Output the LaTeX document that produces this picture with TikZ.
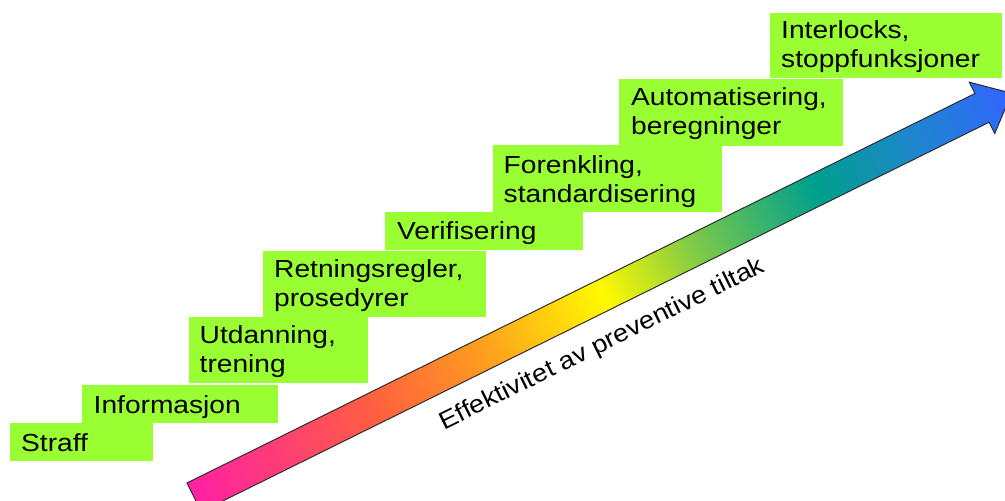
\documentclass[tikz,border=0pt]{standalone}
\usepackage{fontspec}
\setmainfont{Liberation Sans}[FakeStretch=1.14]
\newfontfamily\lblfont{Liberation Sans}[FakeStretch=1.1]
\usetikzlibrary{calc}

% step boxes
\definecolor{stairgreen}{RGB}{153,255,51}
% colour stops of the rising arrow
\definecolor{g0}{RGB}{255,32,165}
\definecolor{g1}{RGB}{255,95,65}
\definecolor{g2}{RGB}{255,155,32}
\definecolor{g3}{RGB}{255,250,0}
\definecolor{g4}{RGB}{120,200,75}
\definecolor{g5}{RGB}{0,160,140}
\definecolor{g6}{RGB}{30,135,205}
\definecolor{g7}{RGB}{50,100,255}
\definecolor{edge}{RGB}{45,45,45}

\tikzset{
  stair/.style={fill=stairgreen, draw=none, inner sep=0pt, anchor=north west},
  steptext/.style={inner sep=0pt, anchor=base west, text width=240pt, align=left,
    font=\fontsize{24.7}{29}\selectfont},
  arrowline/.style={draw=edge, line width=1pt, line join=miter},
}

\begin{document}
\begin{tikzpicture}[x=1pt,y=1pt]
\useasboundingbox (0,0) rectangle (1005,501);
\fill[white] (0,0) rectangle (1005,501);
\clip (0,0) rectangle (1005,501);

% ---- staircase of measures ----
\node[stair, minimum width=143, minimum height=38] (b1) at (10,78) {};
\node[stair, minimum width=196, minimum height=38] (b2) at (82,116) {};
\node[stair, minimum width=179, minimum height=66] (b3) at (189,184) {};
\node[stair, minimum width=223, minimum height=66] (b4) at (263,250) {};
\node[stair, minimum width=198, minimum height=38] (b5) at (385,289) {};
\node[stair, minimum width=229, minimum height=67] (b6) at (493,356) {};
\node[stair, minimum width=224, minimum height=67] (b7) at (619,422) {};
\node[stair, minimum width=232, minimum height=65] (b8) at (770,488) {};

\node[steptext] (t1) at ($(b1.north west)+(11,-28.5)$) {Straff};
\node[steptext] (t2) at ($(b2.north west)+(11.5,-28.3)$) {Informasjon};
\node[steptext] (t3) at ($(b3.north west)+(10.5,-26.5)$) {Utdanning,\\trening};
\node[steptext] (t4) at ($(b4.north west)+(11,-26.5)$) {Retningsregler,\\prosedyrer};
\node[steptext] (t5) at ($(b5.north west)+(12,-27.3)$) {Verifisering};
\node[steptext] (t6) at ($(b6.north west)+(10.5,-28.5)$) {Forenkling,\\standardisering};
\node[steptext] (t7) at ($(b7.north west)+(12,-27)$) {Automatisering,\\beregninger};
\node[steptext] (t8) at ($(b8.north west)+(11,-26)$) {Interlocks,\\stoppfunksjoner};

% ---- rising arrow with rainbow fill ----
\begin{scope}[shift={(194.1,3.7)}, rotate=26.3]
  \begin{scope}
    \clip (0,-16) -- (879,-16) -- (879,-28.6) -- (912,0) -- (879,28.6)
          -- (879,16) -- (0,16) -- cycle;
    \foreach \ta/\tb/\ca/\cb in {0/0.22/g0/g1, 0.22/0.35/g1/g2, 0.35/0.5/g2/g3,
        0.5/0.62/g3/g4, 0.62/0.76/g4/g5, 0.76/0.88/g5/g6, 0.88/1/g6/g7} {
      \foreach \k in {0,...,29} {
        \pgfmathsetmacro\xa{912*(\ta+(\tb-\ta)*\k/30)}
        \pgfmathsetmacro\xb{912*(\ta+(\tb-\ta)*(\k+1)/30)+0.8}
        \pgfmathsetmacro\p{100*(\k+0.5)/30}
        \fill[color=\cb!\p!\ca] (\xa,-40) rectangle (\xb,40);
      }
    }
  \end{scope}
  \draw[arrowline] (0,-16) -- (879,-16) -- (879,-28.6) -- (912,0) -- (879,28.6)
        -- (879,16) -- (0,16) -- cycle;
  \node[transform shape, inner sep=0pt, anchor=base west,
        font=\lblfont\fontsize{24.8}{29}\selectfont] (lbl) at (254,-50.7)
        {Effektivitet av preventive tiltak};
\end{scope}
\end{tikzpicture}
\end{document}
